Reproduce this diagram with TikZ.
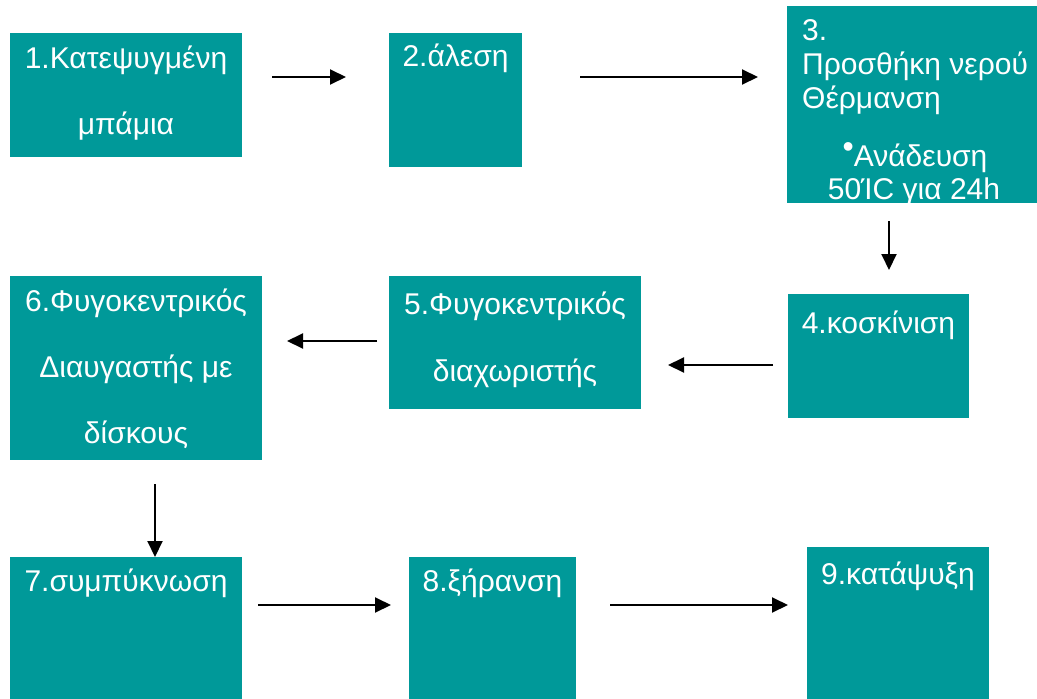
\documentclass[tikz,border=0pt]{standalone}
\usepackage{fontspec}
\setmainfont{Liberation Sans}
\usetikzlibrary{arrows.meta}
\definecolor{teal1}{RGB}{0,153,153}
\tikzset{
  box/.style={fill=teal1, draw=none, inner sep=0pt, outer sep=0pt, anchor=north west},
  lbl/.style={text=white, inner sep=0pt, font=\fontsize{30}{34}\selectfont, anchor=base},
  lblw/.style={lbl, anchor=base west},
  arr/.style={draw=black, line width=2pt, -{Triangle[length=16pt,width=15pt]}}
}
\begin{document}
\begin{tikzpicture}[x=1pt,y=-1pt]
\useasboundingbox (0,0) rectangle (1037,699);
\fill[white] (0,0) rectangle (1037,699);
% boxes
\node[box, minimum width=232pt, minimum height=124pt] (b1) at (10,33) {};
\node[box, minimum width=133pt, minimum height=134pt] (b2) at (389,33) {};
\node[box, minimum width=250pt, minimum height=197pt] (b3) at (787,6) {};
\node[box, minimum width=181pt, minimum height=124pt] (b4) at (788,294) {};
\node[box, minimum width=252pt, minimum height=133pt] (b5) at (389,276) {};
\node[box, minimum width=252pt, minimum height=184pt] (b6) at (10,276) {};
\node[box, minimum width=232pt, minimum height=142pt] (b7) at (10,557) {};
\node[box, minimum width=167pt, minimum height=142pt] (b8) at (409,557) {};
\node[box, minimum width=182pt, minimum height=152pt] (b9) at (807,547) {};
% labels
\node[lbl] (t1a) at (126,68) {1.Κατεψυγμένη};
\node[lbl] (t1b) at (126,134) {μπάμια};
\node[lbl] (t2) at (455.5,66) {2.άλεση};
\node[lblw] (t3a) at (802,40) {3.};
\node[lblw] (t3b) at (802,74) {Προσθήκη νερού};
\node[lblw] (t3c) at (802,108) {Θέρμανση};
\node[lbl] (t3d) at (915,166) {\raisebox{9pt}{\fontsize{32}{32}\selectfont •}Ανάδευση};
\node[lbl] (t3e) at (914,199) {50ΊC για 24h};
\node[lbl] (t4) at (878.5,333) {4.κοσκίνιση};
\node[lbl] (t5a) at (515,314) {5.Φυγοκεντρικός};
\node[lbl] (t5b) at (515,381) {διαχωριστής};
\node[lbl] (t6a) at (136,311) {6.Φυγοκεντρικός};
\node[lbl] (t6b) at (136,377) {Διαυγαστής με};
\node[lbl] (t6c) at (136,443) {δίσκους};
\node[lbl] (t7) at (126,591) {7.συμπύκνωση};
\node[lbl] (t8) at (492.5,591) {8.ξήρανση};
\node[lbl] (t9) at (898,584) {9.κατάψυξη};
% connector end points
\coordinate (a12s) at (272,77);  \coordinate (a12e) at (346,77);
\coordinate (a23s) at (580,77);  \coordinate (a23e) at (758,77);
\coordinate (a34s) at (889,221); \coordinate (a34e) at (889,270);
\coordinate (a45s) at (773,365); \coordinate (a45e) at (668,365);
\coordinate (a56s) at (377,341); \coordinate (a56e) at (287,341);
\coordinate (a67s) at (155,484); \coordinate (a67e) at (155,557);
\coordinate (a78s) at (258,605); \coordinate (a78e) at (391,605);
\coordinate (a89s) at (610,605); \coordinate (a89e) at (788,605);
\draw[arr] (a12s) -- (a12e);
\draw[arr] (a23s) -- (a23e);
\draw[arr] (a34s) -- (a34e);
\draw[arr] (a45s) -- (a45e);
\draw[arr] (a56s) -- (a56e);
\draw[arr] (a67s) -- (a67e);
\draw[arr] (a78s) -- (a78e);
\draw[arr] (a89s) -- (a89e);
\end{tikzpicture}
\end{document}
